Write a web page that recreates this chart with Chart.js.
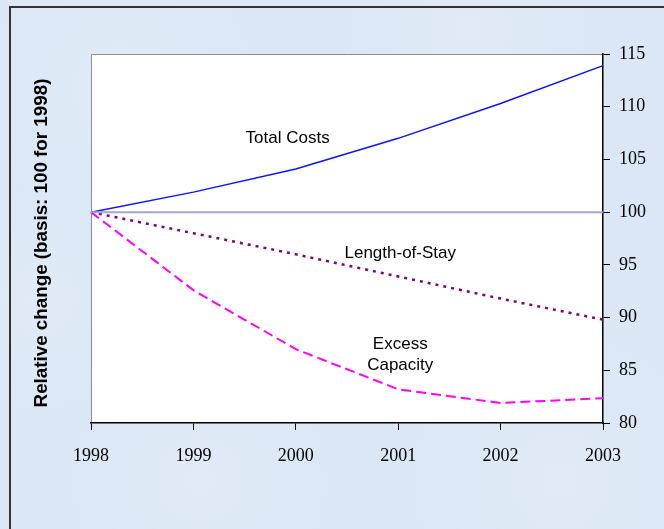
<!DOCTYPE html>
<html>
<head>
<meta charset="utf-8">
<script src="https://cdn.jsdelivr.net/npm/chart.js@4/dist/chart.umd.min.js"></script>
<style>
  html, body { margin: 0; padding: 0; background: #dbe7f5; }
  #wrap { position: relative; width: 664px; height: 529px; }
  canvas { display: block; }
</style>
</head>
<body>
<div id="wrap"><canvas id="c" width="664" height="529"></canvas></div>
<script>
// Years on the horizontal axis
const years = ['1998', '1999', '2000', '2001', '2002', '2003'];

// Index values (1998 = 100)
const totalCosts = [100, 101.9, 104.1, 107.0, 110.3, 113.9];
const lengthOfStay = [100, 98.0, 96.0, 93.9, 91.8, 89.8];
const excessCapacity = [100, 92.6, 87.0, 83.2, 81.9, 82.35];
const baseline = [100, 100, 100, 100, 100, 100];

// Right-hand axis range
const yMin = 80;
const yMax = 115;
const yStep = 5;

const yTitle = 'Relative change (basis: 100 for 1998)';

// Line captions, anchored at data coordinates
const captions = [
  { lines: ['Total Costs'], x: 1.92, y: 107.0 },
  { lines: ['Length-of-Stay'], x: 3.02, y: 96.1 },
  { lines: ['Excess', 'Capacity'], x: 3.02, y: 87.5 }
];

const backdrop = {
  id: 'backdrop',
  beforeDraw(chart) {
    const { ctx, chartArea: a, width, height } = chart;
    ctx.save();
    // panel background with a soft mottled look
    ctx.fillStyle = '#dbe7f5';
    ctx.fillRect(0, 0, width, height);
    const blobs = [[120, 90, 140], [470, 30, 120], [560, 480, 150], [200, 480, 130], [40, 300, 110]];
    blobs.forEach(([bx, by, r]) => {
      const g = ctx.createRadialGradient(bx, by, 0, bx, by, r);
      g.addColorStop(0, 'rgba(232,240,250,0.45)');
      g.addColorStop(1, 'rgba(232,240,250,0)');
      ctx.fillStyle = g;
      ctx.fillRect(bx - r, by - r, 2 * r, 2 * r);
    });
    // dark frame along top and left
    ctx.strokeStyle = '#333333';
    ctx.lineWidth = 2;
    ctx.beginPath();
    ctx.moveTo(10, height + 2);
    ctx.lineTo(10, 7);
    ctx.lineTo(width + 2, 7);
    ctx.stroke();
    // white plotting area
    ctx.fillStyle = '#ffffff';
    ctx.fillRect(a.left, a.top, a.right - a.left, a.bottom - a.top);
    ctx.strokeStyle = '#8c8c8c';
    ctx.lineWidth = 1;
    ctx.beginPath();
    ctx.moveTo(a.left + 0.5, a.bottom);
    ctx.lineTo(a.left + 0.5, a.top + 0.5);
    ctx.lineTo(a.right, a.top + 0.5);
    ctx.stroke();
    ctx.restore();
  },
  afterDraw(chart) {
    const { ctx, chartArea: a, scales } = chart;
    ctx.save();
    // vertical axis title on the left
    ctx.translate(42, 243);
    ctx.rotate(-Math.PI / 2);
    ctx.font = 'bold 18.8px "Liberation Sans", Arial, sans-serif';
    ctx.fillStyle = '#000';
    ctx.textAlign = 'center';
    ctx.textBaseline = 'middle';
    ctx.fillText(yTitle, 0, 0);
    ctx.restore();

    ctx.save();
    ctx.font = '17px "Liberation Sans", Arial, sans-serif';
    ctx.fillStyle = '#000';
    ctx.textAlign = 'center';
    ctx.textBaseline = 'middle';
    captions.forEach(c => {
      const px = scales.x.getPixelForValue(c.x);
      const py = scales.y.getPixelForValue(c.y);
      c.lines.forEach((t, i) => ctx.fillText(t, px, py + i * 21));
    });
    ctx.restore();
  }
};

new Chart(document.getElementById('c'), {
  type: 'line',
  data: {
    labels: years,
    datasets: [
      { label: 'Baseline', data: baseline, borderColor: '#a4a4d6', borderWidth: 2, pointRadius: 0, tension: 0 },
      { label: 'Total Costs', data: totalCosts, borderColor: '#0a14ff', borderWidth: 1.5, pointRadius: 0, tension: 0 },
      { label: 'Length-of-Stay', data: lengthOfStay, borderColor: '#800080', borderWidth: 2.5, borderDash: [3, 5], pointRadius: 0, tension: 0 },
      { label: 'Excess Capacity', data: excessCapacity, borderColor: '#ff00ff', borderWidth: 2, borderDash: [10, 5], pointRadius: 0, tension: 0 }
    ]
  },
  options: {
    responsive: false,
    animation: false,
    layout: { padding: { left: 91, top: 54, right: 0, bottom: 0 } },
    plugins: { legend: { display: false }, tooltip: { enabled: false } },
    scales: {
      x: {
        offset: false,
        grid: { display: true, drawOnChartArea: false, drawTicks: true, tickLength: 7, color: '#000', offset: false },
        border: { display: true, color: '#000', width: 1.5 },
        ticks: { color: '#000', padding: 15, font: { family: '"Liberation Serif", "Times New Roman", serif', size: 18 }, maxRotation: 0 },
        afterFit(s) { s.height = 106; }
      },
      y: {
        position: 'right',
        min: yMin,
        max: yMax,
        grid: { display: true, drawOnChartArea: false, drawTicks: true, tickLength: 7, color: '#000' },
        border: { display: true, color: '#000', width: 1.5 },
        ticks: { stepSize: yStep, color: '#000', padding: 9, font: { family: '"Liberation Serif", "Times New Roman", serif', size: 18 } },
        afterFit(s) { s.width = 61; }
      }
    }
  },
  plugins: [backdrop]
});
</script>
</body>
</html>
